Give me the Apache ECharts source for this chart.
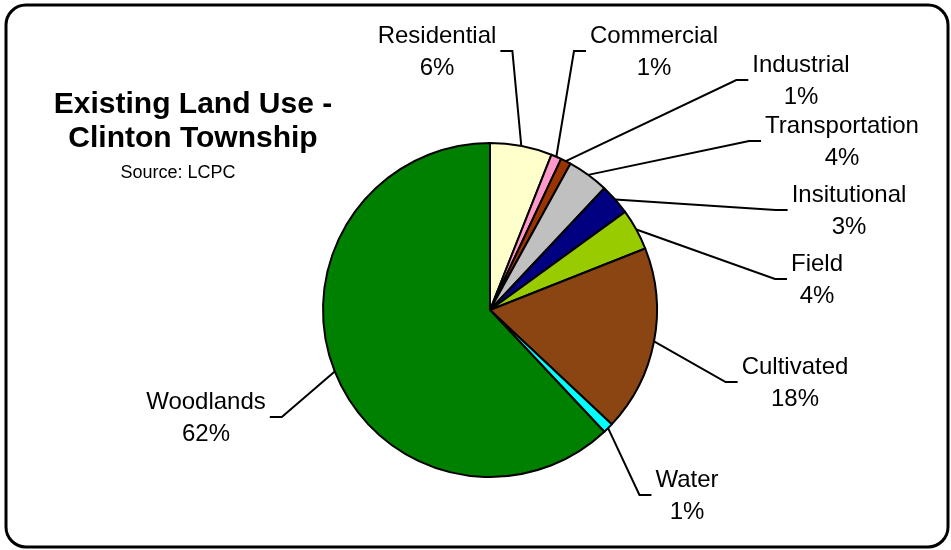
<!DOCTYPE html>
<html>
<head>
<meta charset="utf-8">
<script src="https://cdn.jsdelivr.net/npm/echarts@6/dist/echarts.min.js"></script>
<style>
  html, body { margin: 0; padding: 0; background: #fff; }
  #chart { width: 951px; height: 550px; }
</style>
</head>
<body>
<div id="chart"></div>
<script>
// Land use shares, Clinton Township (percent of total area)
const categories = ['Residential', 'Commercial', 'Industrial', 'Transportation', 'Insitutional', 'Field', 'Cultivated', 'Water', 'Woodlands'];
const shares = [6, 1, 1, 4, 3, 4, 18, 1, 62];

// Slice fills, in category order
const sliceColors = ['#FFFFCC', '#FF99CC', '#993300', '#C0C0C0', '#000080', '#99CC00', '#8B4513', '#00FFFF', '#008000'];

// Where each two-line label block is centred (pixels)
const labelCenters = [
  [437, 52], [654, 52], [801, 81], [842, 142], [849, 211],
  [817, 280], [795, 383], [687, 496], [206, 418]
];

const pieCenter = [490, 310];
const pieRadius = 167;
const FONT = '"Liberation Sans", Arial, sans-serif';

const chart = echarts.init(document.getElementById('chart'), null, { renderer: 'canvas' });

chart.setOption({
  animation: false,
  backgroundColor: '#ffffff',
  title: [{
    text: 'Existing Land Use -\nClinton Township',
    left: 188,
    top: 83,
    textAlign: 'center',
    textStyle: { fontFamily: FONT, fontSize: 30, fontWeight: 'bold', color: '#000', lineHeight: 34 }
  }, {
    text: 'Source: LCPC',
    left: 173,
    top: 157,
    textAlign: 'center',
    textStyle: { fontFamily: FONT, fontSize: 18, fontWeight: 'normal', color: '#000', lineHeight: 22 }
  }],
  graphic: [{
    type: 'rect',
    shape: { x: 6, y: 5, width: 942, height: 542, r: 20 },
    style: { fill: 'none', stroke: '#000', lineWidth: 3 },
    z: 10
  }],
  series: [{
    type: 'pie',
    center: pieCenter,
    radius: pieRadius,
    startAngle: 90,
    clockwise: true,
    avoidLabelOverlap: false,
    data: categories.map((name, i) => ({
      name: name,
      value: shares[i],
      itemStyle: { color: sliceColors[i] }
    })),
    itemStyle: { borderColor: '#000', borderWidth: 2 },
    emphasis: { disabled: true },
    label: {
      show: true,
      position: 'outside',
      formatter: '{b}\n{d}%',
      fontFamily: FONT,
      fontSize: 24,
      lineHeight: 32,
      color: '#000',
      align: 'center'
    },
    labelLine: {
      show: true,
      length: 20,
      length2: 10,
      lineStyle: { color: '#000', width: 2 }
    },
    labelLayout: function (params) {
      const c = labelCenters[params.dataIndex];
      const w = params.labelRect.width;
      const onRight = c[0] > pieCenter[0];
      const edge = params.labelLinePoints ? params.labelLinePoints[0] : null;
      const anchorX = onRight ? c[0] - w / 2 - 4 : c[0] + w / 2 + 4;
      const elbowX = onRight ? anchorX - 12 : anchorX + 12;
      const y = c[1] - 1;
      const out = { x: c[0], y: c[1], align: 'center', verticalAlign: 'middle' };
      if (edge) out.labelLinePoints = [edge, [elbowX, y], [anchorX, y]];
      return out;
    }
  }]
});
</script>
</body>
</html>
